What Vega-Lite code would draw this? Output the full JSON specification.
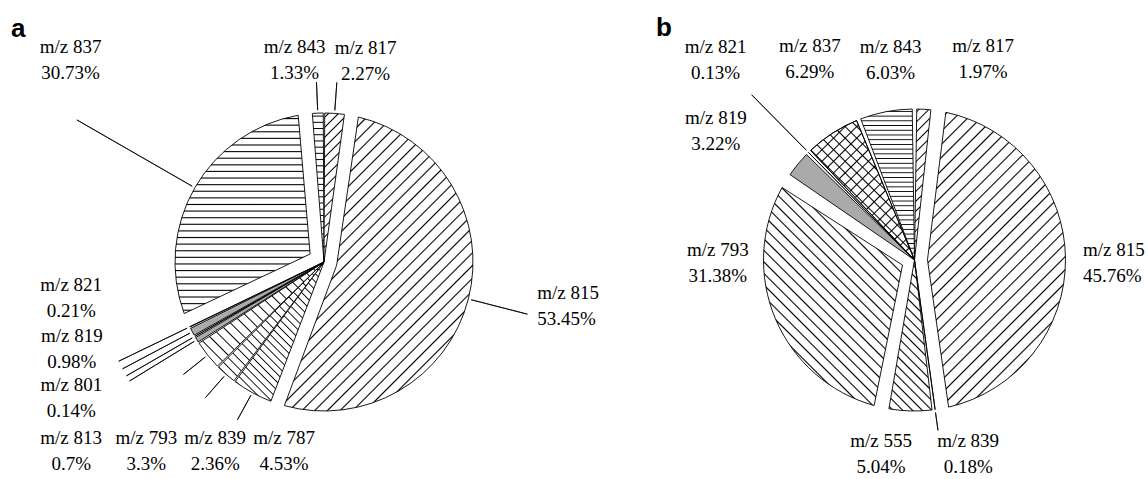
{
"$schema": "https://vega.github.io/schema/vega-lite/v6.json",
"background": "white",
"padding": {"left": 0, "right": 0, "top": 15, "bottom": 0},
"bounds": "flush",
"spacing": 33,
"config": {
  "view": {"stroke": null},
  "text": {"font": "Liberation Serif", "fontSize": 19, "lineHeight": 26, "align": "center", "baseline": "middle", "color": "black"},
  "arc": {"stroke": "black", "strokeWidth": 0.9},
  "title": {"font": "Liberation Sans", "fontSize": 26, "fontWeight": "bold", "color": "black", "anchor": "start", "frame": "group", "baseline": "alphabetic", "offset": -4}
},
"datasets": {
  "a": [
    {"order": 1, "name": "m/z 817", "share": 0.0227},
    {"order": 2, "name": "m/z 815", "share": 0.5345},
    {"order": 3, "name": "m/z 787", "share": 0.0453},
    {"order": 4, "name": "m/z 839", "share": 0.0236},
    {"order": 5, "name": "m/z 793", "share": 0.033},
    {"order": 6, "name": "m/z 813", "share": 0.007},
    {"order": 7, "name": "m/z 801", "share": 0.0014},
    {"order": 8, "name": "m/z 819", "share": 0.0098},
    {"order": 9, "name": "m/z 821", "share": 0.0021},
    {"order": 10, "name": "m/z 837", "share": 0.3073},
    {"order": 11, "name": "m/z 843", "share": 0.0133}
  ],
  "b": [
    {"order": 1, "name": "m/z 817", "share": 0.0197},
    {"order": 2, "name": "m/z 815", "share": 0.4576},
    {"order": 3, "name": "m/z 839", "share": 0.0018},
    {"order": 4, "name": "m/z 555", "share": 0.0504},
    {"order": 5, "name": "m/z 793", "share": 0.3138},
    {"order": 6, "name": "m/z 819", "share": 0.0322},
    {"order": 7, "name": "m/z 821", "share": 0.0013},
    {"order": 8, "name": "m/z 837", "share": 0.0629},
    {"order": 9, "name": "m/z 843", "share": 0.0603}
  ]
},
"hconcat": [
{
  "width": 648, "height": 404,
  "title": {"text": "a", "dx": 11},
  "data": {"name": "a"},
  "transform": [{"stack": "share", "groupby": [], "sort": [{"field": "order", "order": "ascending"}], "as": ["t0", "t1"]}],
  "layer": [
    {"transform": [{"filter": "datum.name === 'm/z 815'"}],
     "mark": {"type": "arc", "outerRadius": 149, "innerRadius": 13, "padAngle": 0.18,
       "fill": {"gradient": "linear", "x1": 0, "y1": 0, "x2": 0.746, "y2": 1.163, "stops": [
{"offset":0.0100,"color":"#fff"},{"offset":0.0132,"color":"#000"},{"offset":0.0164,"color":"#fff"},
{"offset":0.0363,"color":"#fff"},{"offset":0.0395,"color":"#000"},{"offset":0.0427,"color":"#fff"},
{"offset":0.0626,"color":"#fff"},{"offset":0.0658,"color":"#000"},{"offset":0.0690,"color":"#fff"},
{"offset":0.0889,"color":"#fff"},{"offset":0.0921,"color":"#000"},{"offset":0.0953,"color":"#fff"},
{"offset":0.1152,"color":"#fff"},{"offset":0.1184,"color":"#000"},{"offset":0.1216,"color":"#fff"},
{"offset":0.1415,"color":"#fff"},{"offset":0.1447,"color":"#000"},{"offset":0.1479,"color":"#fff"},
{"offset":0.1679,"color":"#fff"},{"offset":0.1711,"color":"#000"},{"offset":0.1743,"color":"#fff"},
{"offset":0.1942,"color":"#fff"},{"offset":0.1974,"color":"#000"},{"offset":0.2006,"color":"#fff"},
{"offset":0.2205,"color":"#fff"},{"offset":0.2237,"color":"#000"},{"offset":0.2269,"color":"#fff"},
{"offset":0.2468,"color":"#fff"},{"offset":0.2500,"color":"#000"},{"offset":0.2532,"color":"#fff"},
{"offset":0.2731,"color":"#fff"},{"offset":0.2763,"color":"#000"},{"offset":0.2795,"color":"#fff"},
{"offset":0.2994,"color":"#fff"},{"offset":0.3026,"color":"#000"},{"offset":0.3058,"color":"#fff"},
{"offset":0.3257,"color":"#fff"},{"offset":0.3289,"color":"#000"},{"offset":0.3321,"color":"#fff"},
{"offset":0.3521,"color":"#fff"},{"offset":0.3553,"color":"#000"},{"offset":0.3585,"color":"#fff"},
{"offset":0.3784,"color":"#fff"},{"offset":0.3816,"color":"#000"},{"offset":0.3848,"color":"#fff"},
{"offset":0.4047,"color":"#fff"},{"offset":0.4079,"color":"#000"},{"offset":0.4111,"color":"#fff"},
{"offset":0.4310,"color":"#fff"},{"offset":0.4342,"color":"#000"},{"offset":0.4374,"color":"#fff"},
{"offset":0.4573,"color":"#fff"},{"offset":0.4605,"color":"#000"},{"offset":0.4637,"color":"#fff"},
{"offset":0.4836,"color":"#fff"},{"offset":0.4868,"color":"#000"},{"offset":0.4900,"color":"#fff"},
{"offset":0.5100,"color":"#fff"},{"offset":0.5132,"color":"#000"},{"offset":0.5164,"color":"#fff"},
{"offset":0.5363,"color":"#fff"},{"offset":0.5395,"color":"#000"},{"offset":0.5427,"color":"#fff"},
{"offset":0.5626,"color":"#fff"},{"offset":0.5658,"color":"#000"},{"offset":0.5690,"color":"#fff"},
{"offset":0.5889,"color":"#fff"},{"offset":0.5921,"color":"#000"},{"offset":0.5953,"color":"#fff"},
{"offset":0.6152,"color":"#fff"},{"offset":0.6184,"color":"#000"},{"offset":0.6216,"color":"#fff"},
{"offset":0.6415,"color":"#fff"},{"offset":0.6447,"color":"#000"},{"offset":0.6479,"color":"#fff"},
{"offset":0.6679,"color":"#fff"},{"offset":0.6711,"color":"#000"},{"offset":0.6743,"color":"#fff"},
{"offset":0.6942,"color":"#fff"},{"offset":0.6974,"color":"#000"},{"offset":0.7006,"color":"#fff"},
{"offset":0.7205,"color":"#fff"},{"offset":0.7237,"color":"#000"},{"offset":0.7269,"color":"#fff"},
{"offset":0.7468,"color":"#fff"},{"offset":0.7500,"color":"#000"},{"offset":0.7532,"color":"#fff"},
{"offset":0.7731,"color":"#fff"},{"offset":0.7763,"color":"#000"},{"offset":0.7795,"color":"#fff"},
{"offset":0.7994,"color":"#fff"},{"offset":0.8026,"color":"#000"},{"offset":0.8058,"color":"#fff"},
{"offset":0.8257,"color":"#fff"},{"offset":0.8289,"color":"#000"},{"offset":0.8321,"color":"#fff"},
{"offset":0.8521,"color":"#fff"},{"offset":0.8553,"color":"#000"},{"offset":0.8585,"color":"#fff"},
{"offset":0.8784,"color":"#fff"},{"offset":0.8816,"color":"#000"},{"offset":0.8848,"color":"#fff"},
{"offset":0.9047,"color":"#fff"},{"offset":0.9079,"color":"#000"},{"offset":0.9111,"color":"#fff"},
{"offset":0.9310,"color":"#fff"},{"offset":0.9342,"color":"#000"},{"offset":0.9374,"color":"#fff"},
{"offset":0.9573,"color":"#fff"},{"offset":0.9605,"color":"#000"},{"offset":0.9637,"color":"#fff"},
{"offset":0.9836,"color":"#fff"},{"offset":0.9868,"color":"#000"},{"offset":0.9900,"color":"#fff"}
       ]}},
     "encoding": {"theta": {"field": "t0", "type": "quantitative", "scale": {"domain": [0, 1]}}, "theta2": {"field": "t1"}}},
    {"transform": [{"filter": "datum.name === 'm/z 837'"}],
     "mark": {"type": "arc", "outerRadius": 149, "innerRadius": 16, "padAngle": 0.18,
       "fill": {"gradient": "linear", "x1": 0, "y1": 0, "x2": 0, "y2": 1, "stops": [
{"offset":0.0112,"color":"#fff"},{"offset":0.0167,"color":"#000"},{"offset":0.0222,"color":"#fff"},
{"offset":0.0445,"color":"#fff"},{"offset":0.0500,"color":"#000"},{"offset":0.0555,"color":"#fff"},
{"offset":0.0778,"color":"#fff"},{"offset":0.0833,"color":"#000"},{"offset":0.0888,"color":"#fff"},
{"offset":0.1112,"color":"#fff"},{"offset":0.1167,"color":"#000"},{"offset":0.1222,"color":"#fff"},
{"offset":0.1445,"color":"#fff"},{"offset":0.1500,"color":"#000"},{"offset":0.1555,"color":"#fff"},
{"offset":0.1778,"color":"#fff"},{"offset":0.1833,"color":"#000"},{"offset":0.1888,"color":"#fff"},
{"offset":0.2112,"color":"#fff"},{"offset":0.2167,"color":"#000"},{"offset":0.2222,"color":"#fff"},
{"offset":0.2445,"color":"#fff"},{"offset":0.2500,"color":"#000"},{"offset":0.2555,"color":"#fff"},
{"offset":0.2778,"color":"#fff"},{"offset":0.2833,"color":"#000"},{"offset":0.2888,"color":"#fff"},
{"offset":0.3112,"color":"#fff"},{"offset":0.3167,"color":"#000"},{"offset":0.3222,"color":"#fff"},
{"offset":0.3445,"color":"#fff"},{"offset":0.3500,"color":"#000"},{"offset":0.3555,"color":"#fff"},
{"offset":0.3778,"color":"#fff"},{"offset":0.3833,"color":"#000"},{"offset":0.3888,"color":"#fff"},
{"offset":0.4112,"color":"#fff"},{"offset":0.4167,"color":"#000"},{"offset":0.4222,"color":"#fff"},
{"offset":0.4445,"color":"#fff"},{"offset":0.4500,"color":"#000"},{"offset":0.4555,"color":"#fff"},
{"offset":0.4778,"color":"#fff"},{"offset":0.4833,"color":"#000"},{"offset":0.4888,"color":"#fff"},
{"offset":0.5112,"color":"#fff"},{"offset":0.5167,"color":"#000"},{"offset":0.5222,"color":"#fff"},
{"offset":0.5445,"color":"#fff"},{"offset":0.5500,"color":"#000"},{"offset":0.5555,"color":"#fff"},
{"offset":0.5778,"color":"#fff"},{"offset":0.5833,"color":"#000"},{"offset":0.5888,"color":"#fff"},
{"offset":0.6112,"color":"#fff"},{"offset":0.6167,"color":"#000"},{"offset":0.6222,"color":"#fff"},
{"offset":0.6445,"color":"#fff"},{"offset":0.6500,"color":"#000"},{"offset":0.6555,"color":"#fff"},
{"offset":0.6778,"color":"#fff"},{"offset":0.6833,"color":"#000"},{"offset":0.6888,"color":"#fff"},
{"offset":0.7112,"color":"#fff"},{"offset":0.7167,"color":"#000"},{"offset":0.7222,"color":"#fff"},
{"offset":0.7445,"color":"#fff"},{"offset":0.7500,"color":"#000"},{"offset":0.7555,"color":"#fff"},
{"offset":0.7778,"color":"#fff"},{"offset":0.7833,"color":"#000"},{"offset":0.7888,"color":"#fff"},
{"offset":0.8112,"color":"#fff"},{"offset":0.8167,"color":"#000"},{"offset":0.8222,"color":"#fff"},
{"offset":0.8445,"color":"#fff"},{"offset":0.8500,"color":"#000"},{"offset":0.8555,"color":"#fff"},
{"offset":0.8778,"color":"#fff"},{"offset":0.8833,"color":"#000"},{"offset":0.8888,"color":"#fff"},
{"offset":0.9112,"color":"#fff"},{"offset":0.9167,"color":"#000"},{"offset":0.9222,"color":"#fff"},
{"offset":0.9445,"color":"#fff"},{"offset":0.9500,"color":"#000"},{"offset":0.9555,"color":"#fff"},
{"offset":0.9778,"color":"#fff"},{"offset":0.9833,"color":"#000"},{"offset":0.9888,"color":"#fff"}
       ]}},
     "encoding": {"theta": {"field": "t0", "type": "quantitative", "scale": {"domain": [0, 1]}}, "theta2": {"field": "t1"}}},
    {"transform": [{"filter": "datum.name === 'm/z 843'"}],
     "mark": {"type": "arc", "outerRadius": 149, "innerRadius": 0, "padAngle": 0.01,
       "fill": {"gradient": "linear", "x1": 0, "y1": 0, "x2": 0, "y2": 1, "stops": [
{"offset":0.0141,"color":"#fff"},{"offset":0.0208,"color":"#000"},{"offset":0.0275,"color":"#fff"},
{"offset":0.0558,"color":"#fff"},{"offset":0.0625,"color":"#000"},{"offset":0.0692,"color":"#fff"},
{"offset":0.0975,"color":"#fff"},{"offset":0.1042,"color":"#000"},{"offset":0.1109,"color":"#fff"},
{"offset":0.1391,"color":"#fff"},{"offset":0.1458,"color":"#000"},{"offset":0.1525,"color":"#fff"},
{"offset":0.1808,"color":"#fff"},{"offset":0.1875,"color":"#000"},{"offset":0.1942,"color":"#fff"},
{"offset":0.2225,"color":"#fff"},{"offset":0.2292,"color":"#000"},{"offset":0.2359,"color":"#fff"},
{"offset":0.2641,"color":"#fff"},{"offset":0.2708,"color":"#000"},{"offset":0.2775,"color":"#fff"},
{"offset":0.3058,"color":"#fff"},{"offset":0.3125,"color":"#000"},{"offset":0.3192,"color":"#fff"},
{"offset":0.3475,"color":"#fff"},{"offset":0.3542,"color":"#000"},{"offset":0.3609,"color":"#fff"},
{"offset":0.3891,"color":"#fff"},{"offset":0.3958,"color":"#000"},{"offset":0.4025,"color":"#fff"},
{"offset":0.4308,"color":"#fff"},{"offset":0.4375,"color":"#000"},{"offset":0.4442,"color":"#fff"},
{"offset":0.4725,"color":"#fff"},{"offset":0.4792,"color":"#000"},{"offset":0.4859,"color":"#fff"},
{"offset":0.5141,"color":"#fff"},{"offset":0.5208,"color":"#000"},{"offset":0.5275,"color":"#fff"},
{"offset":0.5558,"color":"#fff"},{"offset":0.5625,"color":"#000"},{"offset":0.5692,"color":"#fff"},
{"offset":0.5975,"color":"#fff"},{"offset":0.6042,"color":"#000"},{"offset":0.6109,"color":"#fff"},
{"offset":0.6391,"color":"#fff"},{"offset":0.6458,"color":"#000"},{"offset":0.6525,"color":"#fff"},
{"offset":0.6808,"color":"#fff"},{"offset":0.6875,"color":"#000"},{"offset":0.6942,"color":"#fff"},
{"offset":0.7225,"color":"#fff"},{"offset":0.7292,"color":"#000"},{"offset":0.7359,"color":"#fff"},
{"offset":0.7641,"color":"#fff"},{"offset":0.7708,"color":"#000"},{"offset":0.7775,"color":"#fff"},
{"offset":0.8058,"color":"#fff"},{"offset":0.8125,"color":"#000"},{"offset":0.8192,"color":"#fff"},
{"offset":0.8475,"color":"#fff"},{"offset":0.8542,"color":"#000"},{"offset":0.8609,"color":"#fff"},
{"offset":0.8891,"color":"#fff"},{"offset":0.8958,"color":"#000"},{"offset":0.9025,"color":"#fff"},
{"offset":0.9308,"color":"#fff"},{"offset":0.9375,"color":"#000"},{"offset":0.9442,"color":"#fff"},
{"offset":0.9725,"color":"#fff"},{"offset":0.9792,"color":"#000"},{"offset":0.9859,"color":"#fff"}
       ]}},
     "encoding": {"theta": {"field": "t0", "type": "quantitative", "scale": {"domain": [0, 1]}}, "theta2": {"field": "t1"}}},
    {"transform": [{"filter": "datum.name === 'm/z 817'"}],
     "mark": {"type": "arc", "outerRadius": 149, "innerRadius": 0, "padAngle": 0.01,
       "fill": {"gradient": "linear", "x1": 0, "y1": 0, "x2": 0.1528, "y2": 1.116, "stops": [
{"offset":0.0211,"color":"#fff"},{"offset":0.0294,"color":"#000"},{"offset":0.0377,"color":"#fff"},
{"offset":0.0799,"color":"#fff"},{"offset":0.0882,"color":"#000"},{"offset":0.0965,"color":"#fff"},
{"offset":0.1388,"color":"#fff"},{"offset":0.1471,"color":"#000"},{"offset":0.1554,"color":"#fff"},
{"offset":0.1976,"color":"#fff"},{"offset":0.2059,"color":"#000"},{"offset":0.2142,"color":"#fff"},
{"offset":0.2564,"color":"#fff"},{"offset":0.2647,"color":"#000"},{"offset":0.2730,"color":"#fff"},
{"offset":0.3152,"color":"#fff"},{"offset":0.3235,"color":"#000"},{"offset":0.3318,"color":"#fff"},
{"offset":0.3741,"color":"#fff"},{"offset":0.3824,"color":"#000"},{"offset":0.3907,"color":"#fff"},
{"offset":0.4329,"color":"#fff"},{"offset":0.4412,"color":"#000"},{"offset":0.4495,"color":"#fff"},
{"offset":0.4917,"color":"#fff"},{"offset":0.5000,"color":"#000"},{"offset":0.5083,"color":"#fff"},
{"offset":0.5505,"color":"#fff"},{"offset":0.5588,"color":"#000"},{"offset":0.5671,"color":"#fff"},
{"offset":0.6093,"color":"#fff"},{"offset":0.6176,"color":"#000"},{"offset":0.6259,"color":"#fff"},
{"offset":0.6682,"color":"#fff"},{"offset":0.6765,"color":"#000"},{"offset":0.6848,"color":"#fff"},
{"offset":0.7270,"color":"#fff"},{"offset":0.7353,"color":"#000"},{"offset":0.7436,"color":"#fff"},
{"offset":0.7858,"color":"#fff"},{"offset":0.7941,"color":"#000"},{"offset":0.8024,"color":"#fff"},
{"offset":0.8446,"color":"#fff"},{"offset":0.8529,"color":"#000"},{"offset":0.8612,"color":"#fff"},
{"offset":0.9035,"color":"#fff"},{"offset":0.9118,"color":"#000"},{"offset":0.9201,"color":"#fff"},
{"offset":0.9623,"color":"#fff"},{"offset":0.9706,"color":"#000"},{"offset":0.9789,"color":"#fff"}
       ]}},
     "encoding": {"theta": {"field": "t0", "type": "quantitative", "scale": {"domain": [0, 1]}}, "theta2": {"field": "t1"}}},
    {"transform": [{"filter": "datum.name === 'm/z 787'"}],
     "mark": {"type": "arc", "outerRadius": 149, "innerRadius": 0, "padAngle": 0.01,
       "fill": {"gradient": "linear", "x1": 0, "y1": 1, "x2": 0.7433, "y2": -0.164, "stops": [
{"offset":0.0123,"color":"#fff"},{"offset":0.0179,"color":"#000"},{"offset":0.0235,"color":"#fff"},
{"offset":0.0480,"color":"#fff"},{"offset":0.0536,"color":"#000"},{"offset":0.0592,"color":"#fff"},
{"offset":0.0837,"color":"#fff"},{"offset":0.0893,"color":"#000"},{"offset":0.0949,"color":"#fff"},
{"offset":0.1194,"color":"#fff"},{"offset":0.1250,"color":"#000"},{"offset":0.1306,"color":"#fff"},
{"offset":0.1551,"color":"#fff"},{"offset":0.1607,"color":"#000"},{"offset":0.1663,"color":"#fff"},
{"offset":0.1908,"color":"#fff"},{"offset":0.1964,"color":"#000"},{"offset":0.2020,"color":"#fff"},
{"offset":0.2265,"color":"#fff"},{"offset":0.2321,"color":"#000"},{"offset":0.2377,"color":"#fff"},
{"offset":0.2623,"color":"#fff"},{"offset":0.2679,"color":"#000"},{"offset":0.2735,"color":"#fff"},
{"offset":0.2980,"color":"#fff"},{"offset":0.3036,"color":"#000"},{"offset":0.3092,"color":"#fff"},
{"offset":0.3337,"color":"#fff"},{"offset":0.3393,"color":"#000"},{"offset":0.3449,"color":"#fff"},
{"offset":0.3694,"color":"#fff"},{"offset":0.3750,"color":"#000"},{"offset":0.3806,"color":"#fff"},
{"offset":0.4051,"color":"#fff"},{"offset":0.4107,"color":"#000"},{"offset":0.4163,"color":"#fff"},
{"offset":0.4408,"color":"#fff"},{"offset":0.4464,"color":"#000"},{"offset":0.4520,"color":"#fff"},
{"offset":0.4765,"color":"#fff"},{"offset":0.4821,"color":"#000"},{"offset":0.4877,"color":"#fff"},
{"offset":0.5123,"color":"#fff"},{"offset":0.5179,"color":"#000"},{"offset":0.5235,"color":"#fff"},
{"offset":0.5480,"color":"#fff"},{"offset":0.5536,"color":"#000"},{"offset":0.5592,"color":"#fff"},
{"offset":0.5837,"color":"#fff"},{"offset":0.5893,"color":"#000"},{"offset":0.5949,"color":"#fff"},
{"offset":0.6194,"color":"#fff"},{"offset":0.6250,"color":"#000"},{"offset":0.6306,"color":"#fff"},
{"offset":0.6551,"color":"#fff"},{"offset":0.6607,"color":"#000"},{"offset":0.6663,"color":"#fff"},
{"offset":0.6908,"color":"#fff"},{"offset":0.6964,"color":"#000"},{"offset":0.7020,"color":"#fff"},
{"offset":0.7265,"color":"#fff"},{"offset":0.7321,"color":"#000"},{"offset":0.7377,"color":"#fff"},
{"offset":0.7623,"color":"#fff"},{"offset":0.7679,"color":"#000"},{"offset":0.7735,"color":"#fff"},
{"offset":0.7980,"color":"#fff"},{"offset":0.8036,"color":"#000"},{"offset":0.8092,"color":"#fff"},
{"offset":0.8337,"color":"#fff"},{"offset":0.8393,"color":"#000"},{"offset":0.8449,"color":"#fff"},
{"offset":0.8694,"color":"#fff"},{"offset":0.8750,"color":"#000"},{"offset":0.8806,"color":"#fff"},
{"offset":0.9051,"color":"#fff"},{"offset":0.9107,"color":"#000"},{"offset":0.9163,"color":"#fff"},
{"offset":0.9408,"color":"#fff"},{"offset":0.9464,"color":"#000"},{"offset":0.9520,"color":"#fff"},
{"offset":0.9765,"color":"#fff"},{"offset":0.9821,"color":"#000"},{"offset":0.9877,"color":"#fff"}
       ]}},
     "encoding": {"theta": {"field": "t0", "type": "quantitative", "scale": {"domain": [0, 1]}}, "theta2": {"field": "t1"}}},
    {"transform": [{"filter": "datum.name === 'm/z 839'"}],
     "mark": {"type": "arc", "outerRadius": 149, "innerRadius": 0, "padAngle": 0.01,
       "fill": {"gradient": "linear", "x1": 0, "y1": 1, "x2": 0.9384, "y2": -0.0548, "stops": [
{"offset":0.0151,"color":"#fff"},{"offset":0.0208,"color":"#000"},{"offset":0.0265,"color":"#fff"},
{"offset":0.0568,"color":"#fff"},{"offset":0.0625,"color":"#000"},{"offset":0.0682,"color":"#fff"},
{"offset":0.0985,"color":"#fff"},{"offset":0.1042,"color":"#000"},{"offset":0.1099,"color":"#fff"},
{"offset":0.1401,"color":"#fff"},{"offset":0.1458,"color":"#000"},{"offset":0.1515,"color":"#fff"},
{"offset":0.1818,"color":"#fff"},{"offset":0.1875,"color":"#000"},{"offset":0.1932,"color":"#fff"},
{"offset":0.2235,"color":"#fff"},{"offset":0.2292,"color":"#000"},{"offset":0.2349,"color":"#fff"},
{"offset":0.2651,"color":"#fff"},{"offset":0.2708,"color":"#000"},{"offset":0.2765,"color":"#fff"},
{"offset":0.3068,"color":"#fff"},{"offset":0.3125,"color":"#000"},{"offset":0.3182,"color":"#fff"},
{"offset":0.3485,"color":"#fff"},{"offset":0.3542,"color":"#000"},{"offset":0.3599,"color":"#fff"},
{"offset":0.3901,"color":"#fff"},{"offset":0.3958,"color":"#000"},{"offset":0.4015,"color":"#fff"},
{"offset":0.4318,"color":"#fff"},{"offset":0.4375,"color":"#000"},{"offset":0.4432,"color":"#fff"},
{"offset":0.4735,"color":"#fff"},{"offset":0.4792,"color":"#000"},{"offset":0.4849,"color":"#fff"},
{"offset":0.5151,"color":"#fff"},{"offset":0.5208,"color":"#000"},{"offset":0.5265,"color":"#fff"},
{"offset":0.5568,"color":"#fff"},{"offset":0.5625,"color":"#000"},{"offset":0.5682,"color":"#fff"},
{"offset":0.5985,"color":"#fff"},{"offset":0.6042,"color":"#000"},{"offset":0.6099,"color":"#fff"},
{"offset":0.6401,"color":"#fff"},{"offset":0.6458,"color":"#000"},{"offset":0.6515,"color":"#fff"},
{"offset":0.6818,"color":"#fff"},{"offset":0.6875,"color":"#000"},{"offset":0.6932,"color":"#fff"},
{"offset":0.7235,"color":"#fff"},{"offset":0.7292,"color":"#000"},{"offset":0.7349,"color":"#fff"},
{"offset":0.7651,"color":"#fff"},{"offset":0.7708,"color":"#000"},{"offset":0.7765,"color":"#fff"},
{"offset":0.8068,"color":"#fff"},{"offset":0.8125,"color":"#000"},{"offset":0.8182,"color":"#fff"},
{"offset":0.8485,"color":"#fff"},{"offset":0.8542,"color":"#000"},{"offset":0.8599,"color":"#fff"},
{"offset":0.8901,"color":"#fff"},{"offset":0.8958,"color":"#000"},{"offset":0.9015,"color":"#fff"},
{"offset":0.9318,"color":"#fff"},{"offset":0.9375,"color":"#000"},{"offset":0.9432,"color":"#fff"},
{"offset":0.9735,"color":"#fff"},{"offset":0.9792,"color":"#000"},{"offset":0.9849,"color":"#fff"}
       ]}},
     "encoding": {"theta": {"field": "t0", "type": "quantitative", "scale": {"domain": [0, 1]}}, "theta2": {"field": "t1"}}},
    {"transform": [{"filter": "datum.name === 'm/z 793'"}],
     "mark": {"type": "arc", "outerRadius": 149, "innerRadius": 0, "padAngle": 0.01,
       "fill": {"gradient": "linear", "x1": 0, "y1": 1, "x2": 1.0822, "y2": 0.0987, "stops": [
{"offset":0.019,"color":"#fff"},{"offset":0.025,"color":"#000"},{"offset":0.031,"color":"#fff"},
{"offset":0.069,"color":"#fff"},{"offset":0.075,"color":"#000"},{"offset":0.081,"color":"#fff"},
{"offset":0.119,"color":"#fff"},{"offset":0.125,"color":"#000"},{"offset":0.131,"color":"#fff"},
{"offset":0.169,"color":"#fff"},{"offset":0.175,"color":"#000"},{"offset":0.181,"color":"#fff"},
{"offset":0.219,"color":"#fff"},{"offset":0.225,"color":"#000"},{"offset":0.231,"color":"#fff"},
{"offset":0.269,"color":"#fff"},{"offset":0.275,"color":"#000"},{"offset":0.281,"color":"#fff"},
{"offset":0.319,"color":"#fff"},{"offset":0.325,"color":"#000"},{"offset":0.331,"color":"#fff"},
{"offset":0.369,"color":"#fff"},{"offset":0.375,"color":"#000"},{"offset":0.381,"color":"#fff"},
{"offset":0.419,"color":"#fff"},{"offset":0.425,"color":"#000"},{"offset":0.431,"color":"#fff"},
{"offset":0.469,"color":"#fff"},{"offset":0.475,"color":"#000"},{"offset":0.481,"color":"#fff"},
{"offset":0.519,"color":"#fff"},{"offset":0.525,"color":"#000"},{"offset":0.531,"color":"#fff"},
{"offset":0.569,"color":"#fff"},{"offset":0.575,"color":"#000"},{"offset":0.581,"color":"#fff"},
{"offset":0.619,"color":"#fff"},{"offset":0.625,"color":"#000"},{"offset":0.631,"color":"#fff"},
{"offset":0.669,"color":"#fff"},{"offset":0.675,"color":"#000"},{"offset":0.681,"color":"#fff"},
{"offset":0.719,"color":"#fff"},{"offset":0.725,"color":"#000"},{"offset":0.731,"color":"#fff"},
{"offset":0.769,"color":"#fff"},{"offset":0.775,"color":"#000"},{"offset":0.781,"color":"#fff"},
{"offset":0.819,"color":"#fff"},{"offset":0.825,"color":"#000"},{"offset":0.831,"color":"#fff"},
{"offset":0.869,"color":"#fff"},{"offset":0.875,"color":"#000"},{"offset":0.881,"color":"#fff"},
{"offset":0.919,"color":"#fff"},{"offset":0.925,"color":"#000"},{"offset":0.931,"color":"#fff"},
{"offset":0.969,"color":"#fff"},{"offset":0.975,"color":"#000"},{"offset":0.981,"color":"#fff"}
       ]}},
     "encoding": {"theta": {"field": "t0", "type": "quantitative", "scale": {"domain": [0, 1]}}, "theta2": {"field": "t1"}}},
    {"transform": [{"filter": {"field": "name", "oneOf": ["m/z 813", "m/z 801", "m/z 819", "m/z 821"]}}],
     "mark": {"type": "arc", "outerRadius": 149, "innerRadius": 0, "padAngle": 0.01},
     "encoding": {"theta": {"field": "t0", "type": "quantitative", "scale": {"domain": [0, 1]}}, "theta2": {"field": "t1"},
       "fill": {"field": "name", "type": "nominal", "legend": null, "scale": {
         "domain": ["m/z 813", "m/z 801", "m/z 819", "m/z 821"],
         "range": ["#aaaaaa", "#aaaaaa", "#aaaaaa", "#aaaaaa"]}}}},
    {"transform": [{"filter": {"field": "name", "oneOf": ["m/z 843", "m/z 817", "m/z 787", "m/z 839", "m/z 793"]}}],
     "mark": {"type": "arc", "filled": false, "stroke": "black", "strokeWidth": 0.8, "outerRadius": 180, "innerRadius": 152, "padAngle": 3.14},
     "encoding": {"theta": {"field": "t0", "type": "quantitative", "scale": {"domain": [0, 1]}}, "theta2": {"field": "t1"}}},
    {"transform": [{"filter": {"field": "name", "oneOf": ["m/z 813", "m/z 801", "m/z 819", "m/z 821"]}}],
     "mark": {"type": "arc", "filled": false, "stroke": "black", "strokeWidth": 0.8, "outerRadius": 228, "innerRadius": 152, "padAngle": 3.14},
     "encoding": {"theta": {"field": "t0", "type": "quantitative", "scale": {"domain": [0, 1]}}, "theta2": {"field": "t1"}}},
    {"transform": [{"filter": "datum.name === 'm/z 815'"}],
     "mark": {"type": "arc", "filled": false, "stroke": "black", "strokeWidth": 0.8, "outerRadius": 210, "innerRadius": 152, "padAngle": 3.14, "thetaOffset": 0.2, "theta2Offset": -0.2},
     "encoding": {"theta": {"field": "t0", "type": "quantitative", "scale": {"domain": [0, 1]}}, "theta2": {"field": "t1"}}},
    {"transform": [{"filter": "datum.name === 'm/z 837'"}],
     "mark": {"type": "arc", "filled": false, "stroke": "black", "strokeWidth": 0.8, "outerRadius": 285, "innerRadius": 152, "padAngle": 3.14},
     "encoding": {"theta": {"field": "t0", "type": "quantitative", "scale": {"domain": [0, 1]}}, "theta2": {"field": "t1"}}},
    {"mark": {"type": "text", "radius": {"expr": "datum.name === 'm/z 837' ? 320 : 0"}, "dx": 24, "dy": -55},
     "encoding": {"theta": {"field": "share", "type": "quantitative", "stack": true, "scale": {"domain": [0, 1]}}, "order": {"field": "order", "type": "quantitative"},
       "text": {"condition": {"test": "datum.name === 'm/z 837'", "value": {"expr": "[datum.name, format(datum.share, '.2~%')]"}}, "value": ""}}},
    {"mark": {"type": "text", "radius": {"expr": "datum.name === 'm/z 843' ? 203 : 0"}, "dx": -21, "dy": -12},
     "encoding": {"theta": {"field": "share", "type": "quantitative", "stack": true, "scale": {"domain": [0, 1]}}, "order": {"field": "order", "type": "quantitative"},
       "text": {"condition": {"test": "datum.name === 'm/z 843'", "value": {"expr": "[datum.name, format(datum.share, '.2~%')]"}}, "value": ""}}},
    {"mark": {"type": "text", "radius": {"expr": "datum.name === 'm/z 817' ? 204 : 0"}, "dx": 27, "dy": -11},
     "encoding": {"theta": {"field": "share", "type": "quantitative", "stack": true, "scale": {"domain": [0, 1]}}, "order": {"field": "order", "type": "quantitative"},
       "text": {"condition": {"test": "datum.name === 'm/z 817'", "value": {"expr": "[datum.name, format(datum.share, '.2~%')]"}}, "value": ""}}},
    {"mark": {"type": "text", "radius": {"expr": "datum.name === 'm/z 815' ? 217 : 0"}, "dx": 3, "dy": -23, "align": "left"},
     "encoding": {"theta": {"field": "share", "type": "quantitative", "stack": true, "scale": {"domain": [0, 1]}}, "order": {"field": "order", "type": "quantitative"},
       "text": {"condition": {"test": "datum.name === 'm/z 815'", "value": {"expr": "[datum.name, format(datum.share, '.2~%')]"}}, "value": ""}}},
    {"mark": {"type": "text", "radius": {"expr": "datum.name === 'm/z 787' ? 185 : 0"}, "dx": 49, "dy": 14},
     "encoding": {"theta": {"field": "share", "type": "quantitative", "stack": true, "scale": {"domain": [0, 1]}}, "order": {"field": "order", "type": "quantitative"},
       "text": {"condition": {"test": "datum.name === 'm/z 787'", "value": {"expr": "[datum.name, format(datum.share, '.2~%')]"}}, "value": ""}}},
    {"mark": {"type": "text", "radius": {"expr": "datum.name === 'm/z 839' ? 214 : 0"}, "dx": 32, "dy": 15},
     "encoding": {"theta": {"field": "share", "type": "quantitative", "stack": true, "scale": {"domain": [0, 1]}}, "order": {"field": "order", "type": "quantitative"},
       "text": {"condition": {"test": "datum.name === 'm/z 839'", "value": {"expr": "[datum.name, format(datum.share, '.2~%')]"}}, "value": ""}}},
    {"mark": {"type": "text", "radius": {"expr": "datum.name === 'm/z 793' ? 257 : 0"}, "dx": 23, "dy": 15},
     "encoding": {"theta": {"field": "share", "type": "quantitative", "stack": true, "scale": {"domain": [0, 1]}}, "order": {"field": "order", "type": "quantitative"},
       "text": {"condition": {"test": "datum.name === 'm/z 793'", "value": {"expr": "[datum.name, format(datum.share, '.2~%')]"}}, "value": ""}}},
    {"mark": {"type": "text", "radius": {"expr": "datum.name === 'm/z 813' ? 314 : 0"}, "dx": 15, "dy": 12},
     "encoding": {"theta": {"field": "share", "type": "quantitative", "stack": true, "scale": {"domain": [0, 1]}}, "order": {"field": "order", "type": "quantitative"},
       "text": {"condition": {"test": "datum.name === 'm/z 813'", "value": {"expr": "[datum.name, format(datum.share, '.2~%')]"}}, "value": ""}}},
    {"mark": {"type": "text", "radius": {"expr": "datum.name === 'm/z 801' ? 287 : 0"}, "dx": -4, "dy": -20},
     "encoding": {"theta": {"field": "share", "type": "quantitative", "stack": true, "scale": {"domain": [0, 1]}}, "order": {"field": "order", "type": "quantitative"},
       "text": {"condition": {"test": "datum.name === 'm/z 801'", "value": {"expr": "[datum.name, format(datum.share, '.2~%')]"}}, "value": ""}}},
    {"mark": {"type": "text", "radius": {"expr": "datum.name === 'm/z 819' ? 264 : 0"}, "dx": -19, "dy": -50},
     "encoding": {"theta": {"field": "share", "type": "quantitative", "stack": true, "scale": {"domain": [0, 1]}}, "order": {"field": "order", "type": "quantitative"},
       "text": {"condition": {"test": "datum.name === 'm/z 819'", "value": {"expr": "[datum.name, format(datum.share, '.2~%')]"}}, "value": ""}}},
    {"mark": {"type": "text", "radius": {"expr": "datum.name === 'm/z 821' ? 243 : 0"}, "dx": -34, "dy": -83},
     "encoding": {"theta": {"field": "share", "type": "quantitative", "stack": true, "scale": {"domain": [0, 1]}}, "order": {"field": "order", "type": "quantitative"},
       "text": {"condition": {"test": "datum.name === 'm/z 821'", "value": {"expr": "[datum.name, format(datum.share, '.2~%')]"}}, "value": ""}}}
  ]
},
{
  "width": 467, "height": 400,
  "title": {"text": "b", "dx": -25},
  "data": {"name": "b"},
  "transform": [{"stack": "share", "groupby": [], "sort": [{"field": "order", "order": "ascending"}], "as": ["t0", "t1"]}],
  "layer": [
    {"transform": [{"filter": "datum.name === 'm/z 815'"}],
     "mark": {"type": "arc", "outerRadius": 151, "innerRadius": 13, "padAngle": 0.17,
       "fill": {"gradient": "linear", "x1": 0, "y1": 0, "x2": 0.5637, "y2": 1.2043, "stops": [
{"offset":0.0116,"color":"#fff"},{"offset":0.0152,"color":"#000"},{"offset":0.0188,"color":"#fff"},
{"offset":0.0419,"color":"#fff"},{"offset":0.0455,"color":"#000"},{"offset":0.0491,"color":"#fff"},
{"offset":0.0722,"color":"#fff"},{"offset":0.0758,"color":"#000"},{"offset":0.0794,"color":"#fff"},
{"offset":0.1025,"color":"#fff"},{"offset":0.1061,"color":"#000"},{"offset":0.1097,"color":"#fff"},
{"offset":0.1328,"color":"#fff"},{"offset":0.1364,"color":"#000"},{"offset":0.1400,"color":"#fff"},
{"offset":0.1631,"color":"#fff"},{"offset":0.1667,"color":"#000"},{"offset":0.1703,"color":"#fff"},
{"offset":0.1934,"color":"#fff"},{"offset":0.1970,"color":"#000"},{"offset":0.2006,"color":"#fff"},
{"offset":0.2237,"color":"#fff"},{"offset":0.2273,"color":"#000"},{"offset":0.2309,"color":"#fff"},
{"offset":0.2540,"color":"#fff"},{"offset":0.2576,"color":"#000"},{"offset":0.2612,"color":"#fff"},
{"offset":0.2843,"color":"#fff"},{"offset":0.2879,"color":"#000"},{"offset":0.2915,"color":"#fff"},
{"offset":0.3146,"color":"#fff"},{"offset":0.3182,"color":"#000"},{"offset":0.3218,"color":"#fff"},
{"offset":0.3449,"color":"#fff"},{"offset":0.3485,"color":"#000"},{"offset":0.3521,"color":"#fff"},
{"offset":0.3752,"color":"#fff"},{"offset":0.3788,"color":"#000"},{"offset":0.3824,"color":"#fff"},
{"offset":0.4055,"color":"#fff"},{"offset":0.4091,"color":"#000"},{"offset":0.4127,"color":"#fff"},
{"offset":0.4358,"color":"#fff"},{"offset":0.4394,"color":"#000"},{"offset":0.4430,"color":"#fff"},
{"offset":0.4661,"color":"#fff"},{"offset":0.4697,"color":"#000"},{"offset":0.4733,"color":"#fff"},
{"offset":0.4964,"color":"#fff"},{"offset":0.5000,"color":"#000"},{"offset":0.5036,"color":"#fff"},
{"offset":0.5267,"color":"#fff"},{"offset":0.5303,"color":"#000"},{"offset":0.5339,"color":"#fff"},
{"offset":0.5570,"color":"#fff"},{"offset":0.5606,"color":"#000"},{"offset":0.5642,"color":"#fff"},
{"offset":0.5873,"color":"#fff"},{"offset":0.5909,"color":"#000"},{"offset":0.5945,"color":"#fff"},
{"offset":0.6176,"color":"#fff"},{"offset":0.6212,"color":"#000"},{"offset":0.6248,"color":"#fff"},
{"offset":0.6479,"color":"#fff"},{"offset":0.6515,"color":"#000"},{"offset":0.6551,"color":"#fff"},
{"offset":0.6782,"color":"#fff"},{"offset":0.6818,"color":"#000"},{"offset":0.6854,"color":"#fff"},
{"offset":0.7085,"color":"#fff"},{"offset":0.7121,"color":"#000"},{"offset":0.7157,"color":"#fff"},
{"offset":0.7388,"color":"#fff"},{"offset":0.7424,"color":"#000"},{"offset":0.7460,"color":"#fff"},
{"offset":0.7691,"color":"#fff"},{"offset":0.7727,"color":"#000"},{"offset":0.7763,"color":"#fff"},
{"offset":0.7994,"color":"#fff"},{"offset":0.8030,"color":"#000"},{"offset":0.8066,"color":"#fff"},
{"offset":0.8297,"color":"#fff"},{"offset":0.8333,"color":"#000"},{"offset":0.8369,"color":"#fff"},
{"offset":0.8600,"color":"#fff"},{"offset":0.8636,"color":"#000"},{"offset":0.8672,"color":"#fff"},
{"offset":0.8903,"color":"#fff"},{"offset":0.8939,"color":"#000"},{"offset":0.8975,"color":"#fff"},
{"offset":0.9206,"color":"#fff"},{"offset":0.9242,"color":"#000"},{"offset":0.9278,"color":"#fff"},
{"offset":0.9509,"color":"#fff"},{"offset":0.9545,"color":"#000"},{"offset":0.9581,"color":"#fff"},
{"offset":0.9812,"color":"#fff"},{"offset":0.9848,"color":"#000"},{"offset":0.9884,"color":"#fff"}
       ]}},
     "encoding": {"theta": {"field": "t0", "type": "quantitative", "scale": {"domain": [0, 1]}}, "theta2": {"field": "t1"}}},
    {"transform": [{"filter": "datum.name === 'm/z 793'"}],
     "mark": {"type": "arc", "outerRadius": 151, "innerRadius": 13, "padAngle": 0.17,
       "fill": {"gradient": "linear", "x1": 0, "y1": 1, "x2": 0.7424, "y2": -0.1643, "stops": [
{"offset":0.0117,"color":"#fff"},{"offset":0.0161,"color":"#000"},{"offset":0.0205,"color":"#fff"},
{"offset":0.0440,"color":"#fff"},{"offset":0.0484,"color":"#000"},{"offset":0.0528,"color":"#fff"},
{"offset":0.0762,"color":"#fff"},{"offset":0.0806,"color":"#000"},{"offset":0.0850,"color":"#fff"},
{"offset":0.1085,"color":"#fff"},{"offset":0.1129,"color":"#000"},{"offset":0.1173,"color":"#fff"},
{"offset":0.1408,"color":"#fff"},{"offset":0.1452,"color":"#000"},{"offset":0.1496,"color":"#fff"},
{"offset":0.1730,"color":"#fff"},{"offset":0.1774,"color":"#000"},{"offset":0.1818,"color":"#fff"},
{"offset":0.2053,"color":"#fff"},{"offset":0.2097,"color":"#000"},{"offset":0.2141,"color":"#fff"},
{"offset":0.2375,"color":"#fff"},{"offset":0.2419,"color":"#000"},{"offset":0.2463,"color":"#fff"},
{"offset":0.2698,"color":"#fff"},{"offset":0.2742,"color":"#000"},{"offset":0.2786,"color":"#fff"},
{"offset":0.3021,"color":"#fff"},{"offset":0.3065,"color":"#000"},{"offset":0.3109,"color":"#fff"},
{"offset":0.3343,"color":"#fff"},{"offset":0.3387,"color":"#000"},{"offset":0.3431,"color":"#fff"},
{"offset":0.3666,"color":"#fff"},{"offset":0.3710,"color":"#000"},{"offset":0.3754,"color":"#fff"},
{"offset":0.3988,"color":"#fff"},{"offset":0.4032,"color":"#000"},{"offset":0.4076,"color":"#fff"},
{"offset":0.4311,"color":"#fff"},{"offset":0.4355,"color":"#000"},{"offset":0.4399,"color":"#fff"},
{"offset":0.4633,"color":"#fff"},{"offset":0.4677,"color":"#000"},{"offset":0.4721,"color":"#fff"},
{"offset":0.4956,"color":"#fff"},{"offset":0.5000,"color":"#000"},{"offset":0.5044,"color":"#fff"},
{"offset":0.5279,"color":"#fff"},{"offset":0.5323,"color":"#000"},{"offset":0.5367,"color":"#fff"},
{"offset":0.5601,"color":"#fff"},{"offset":0.5645,"color":"#000"},{"offset":0.5689,"color":"#fff"},
{"offset":0.5924,"color":"#fff"},{"offset":0.5968,"color":"#000"},{"offset":0.6012,"color":"#fff"},
{"offset":0.6246,"color":"#fff"},{"offset":0.6290,"color":"#000"},{"offset":0.6334,"color":"#fff"},
{"offset":0.6569,"color":"#fff"},{"offset":0.6613,"color":"#000"},{"offset":0.6657,"color":"#fff"},
{"offset":0.6891,"color":"#fff"},{"offset":0.6935,"color":"#000"},{"offset":0.6979,"color":"#fff"},
{"offset":0.7214,"color":"#fff"},{"offset":0.7258,"color":"#000"},{"offset":0.7302,"color":"#fff"},
{"offset":0.7537,"color":"#fff"},{"offset":0.7581,"color":"#000"},{"offset":0.7625,"color":"#fff"},
{"offset":0.7859,"color":"#fff"},{"offset":0.7903,"color":"#000"},{"offset":0.7947,"color":"#fff"},
{"offset":0.8182,"color":"#fff"},{"offset":0.8226,"color":"#000"},{"offset":0.8270,"color":"#fff"},
{"offset":0.8504,"color":"#fff"},{"offset":0.8548,"color":"#000"},{"offset":0.8592,"color":"#fff"},
{"offset":0.8827,"color":"#fff"},{"offset":0.8871,"color":"#000"},{"offset":0.8915,"color":"#fff"},
{"offset":0.9150,"color":"#fff"},{"offset":0.9194,"color":"#000"},{"offset":0.9238,"color":"#fff"},
{"offset":0.9472,"color":"#fff"},{"offset":0.9516,"color":"#000"},{"offset":0.9560,"color":"#fff"},
{"offset":0.9795,"color":"#fff"},{"offset":0.9839,"color":"#000"},{"offset":0.9883,"color":"#fff"}
       ]}},
     "encoding": {"theta": {"field": "t0", "type": "quantitative", "scale": {"domain": [0, 1]}}, "theta2": {"field": "t1"}}},
    {"transform": [{"filter": "datum.name === 'm/z 555'"}],
     "mark": {"type": "arc", "outerRadius": 151, "innerRadius": 0, "padAngle": 0.03,
       "fill": {"gradient": "linear", "x1": 0, "y1": 1, "x2": 0.3392, "y2": -0.1885, "stops": [
{"offset":0.017,"color":"#fff"},{"offset":0.025,"color":"#000"},{"offset":0.033,"color":"#fff"},
{"offset":0.067,"color":"#fff"},{"offset":0.075,"color":"#000"},{"offset":0.083,"color":"#fff"},
{"offset":0.117,"color":"#fff"},{"offset":0.125,"color":"#000"},{"offset":0.133,"color":"#fff"},
{"offset":0.167,"color":"#fff"},{"offset":0.175,"color":"#000"},{"offset":0.183,"color":"#fff"},
{"offset":0.217,"color":"#fff"},{"offset":0.225,"color":"#000"},{"offset":0.233,"color":"#fff"},
{"offset":0.267,"color":"#fff"},{"offset":0.275,"color":"#000"},{"offset":0.283,"color":"#fff"},
{"offset":0.317,"color":"#fff"},{"offset":0.325,"color":"#000"},{"offset":0.333,"color":"#fff"},
{"offset":0.367,"color":"#fff"},{"offset":0.375,"color":"#000"},{"offset":0.383,"color":"#fff"},
{"offset":0.417,"color":"#fff"},{"offset":0.425,"color":"#000"},{"offset":0.433,"color":"#fff"},
{"offset":0.467,"color":"#fff"},{"offset":0.475,"color":"#000"},{"offset":0.483,"color":"#fff"},
{"offset":0.517,"color":"#fff"},{"offset":0.525,"color":"#000"},{"offset":0.533,"color":"#fff"},
{"offset":0.567,"color":"#fff"},{"offset":0.575,"color":"#000"},{"offset":0.583,"color":"#fff"},
{"offset":0.617,"color":"#fff"},{"offset":0.625,"color":"#000"},{"offset":0.633,"color":"#fff"},
{"offset":0.667,"color":"#fff"},{"offset":0.675,"color":"#000"},{"offset":0.683,"color":"#fff"},
{"offset":0.717,"color":"#fff"},{"offset":0.725,"color":"#000"},{"offset":0.733,"color":"#fff"},
{"offset":0.767,"color":"#fff"},{"offset":0.775,"color":"#000"},{"offset":0.783,"color":"#fff"},
{"offset":0.817,"color":"#fff"},{"offset":0.825,"color":"#000"},{"offset":0.833,"color":"#fff"},
{"offset":0.867,"color":"#fff"},{"offset":0.875,"color":"#000"},{"offset":0.883,"color":"#fff"},
{"offset":0.917,"color":"#fff"},{"offset":0.925,"color":"#000"},{"offset":0.933,"color":"#fff"},
{"offset":0.967,"color":"#fff"},{"offset":0.975,"color":"#000"},{"offset":0.983,"color":"#fff"}
       ]}},
     "encoding": {"theta": {"field": "t0", "type": "quantitative", "scale": {"domain": [0, 1]}}, "theta2": {"field": "t1"}}},
    {"transform": [{"filter": "datum.name === 'm/z 843'"}],
     "mark": {"type": "arc", "outerRadius": 151, "innerRadius": 0, "padAngle": 0.03,
       "fill": {"gradient": "linear", "x1": 0, "y1": 0, "x2": 0, "y2": 1, "stops": [
{"offset":0.0096,"color":"#fff"},{"offset":0.0156,"color":"#000"},{"offset":0.0216,"color":"#fff"},
{"offset":0.0409,"color":"#fff"},{"offset":0.0469,"color":"#000"},{"offset":0.0529,"color":"#fff"},
{"offset":0.0721,"color":"#fff"},{"offset":0.0781,"color":"#000"},{"offset":0.0841,"color":"#fff"},
{"offset":0.1034,"color":"#fff"},{"offset":0.1094,"color":"#000"},{"offset":0.1154,"color":"#fff"},
{"offset":0.1346,"color":"#fff"},{"offset":0.1406,"color":"#000"},{"offset":0.1466,"color":"#fff"},
{"offset":0.1659,"color":"#fff"},{"offset":0.1719,"color":"#000"},{"offset":0.1779,"color":"#fff"},
{"offset":0.1971,"color":"#fff"},{"offset":0.2031,"color":"#000"},{"offset":0.2091,"color":"#fff"},
{"offset":0.2284,"color":"#fff"},{"offset":0.2344,"color":"#000"},{"offset":0.2404,"color":"#fff"},
{"offset":0.2596,"color":"#fff"},{"offset":0.2656,"color":"#000"},{"offset":0.2716,"color":"#fff"},
{"offset":0.2909,"color":"#fff"},{"offset":0.2969,"color":"#000"},{"offset":0.3029,"color":"#fff"},
{"offset":0.3221,"color":"#fff"},{"offset":0.3281,"color":"#000"},{"offset":0.3341,"color":"#fff"},
{"offset":0.3534,"color":"#fff"},{"offset":0.3594,"color":"#000"},{"offset":0.3654,"color":"#fff"},
{"offset":0.3846,"color":"#fff"},{"offset":0.3906,"color":"#000"},{"offset":0.3966,"color":"#fff"},
{"offset":0.4159,"color":"#fff"},{"offset":0.4219,"color":"#000"},{"offset":0.4279,"color":"#fff"},
{"offset":0.4471,"color":"#fff"},{"offset":0.4531,"color":"#000"},{"offset":0.4591,"color":"#fff"},
{"offset":0.4784,"color":"#fff"},{"offset":0.4844,"color":"#000"},{"offset":0.4904,"color":"#fff"},
{"offset":0.5096,"color":"#fff"},{"offset":0.5156,"color":"#000"},{"offset":0.5216,"color":"#fff"},
{"offset":0.5409,"color":"#fff"},{"offset":0.5469,"color":"#000"},{"offset":0.5529,"color":"#fff"},
{"offset":0.5721,"color":"#fff"},{"offset":0.5781,"color":"#000"},{"offset":0.5841,"color":"#fff"},
{"offset":0.6034,"color":"#fff"},{"offset":0.6094,"color":"#000"},{"offset":0.6154,"color":"#fff"},
{"offset":0.6346,"color":"#fff"},{"offset":0.6406,"color":"#000"},{"offset":0.6466,"color":"#fff"},
{"offset":0.6659,"color":"#fff"},{"offset":0.6719,"color":"#000"},{"offset":0.6779,"color":"#fff"},
{"offset":0.6971,"color":"#fff"},{"offset":0.7031,"color":"#000"},{"offset":0.7091,"color":"#fff"},
{"offset":0.7284,"color":"#fff"},{"offset":0.7344,"color":"#000"},{"offset":0.7404,"color":"#fff"},
{"offset":0.7596,"color":"#fff"},{"offset":0.7656,"color":"#000"},{"offset":0.7716,"color":"#fff"},
{"offset":0.7909,"color":"#fff"},{"offset":0.7969,"color":"#000"},{"offset":0.8029,"color":"#fff"},
{"offset":0.8221,"color":"#fff"},{"offset":0.8281,"color":"#000"},{"offset":0.8341,"color":"#fff"},
{"offset":0.8534,"color":"#fff"},{"offset":0.8594,"color":"#000"},{"offset":0.8654,"color":"#fff"},
{"offset":0.8846,"color":"#fff"},{"offset":0.8906,"color":"#000"},{"offset":0.8966,"color":"#fff"},
{"offset":0.9159,"color":"#fff"},{"offset":0.9219,"color":"#000"},{"offset":0.9279,"color":"#fff"},
{"offset":0.9471,"color":"#fff"},{"offset":0.9531,"color":"#000"},{"offset":0.9591,"color":"#fff"},
{"offset":0.9784,"color":"#fff"},{"offset":0.9844,"color":"#000"},{"offset":0.9904,"color":"#fff"}
       ]}},
     "encoding": {"theta": {"field": "t0", "type": "quantitative", "scale": {"domain": [0, 1]}}, "theta2": {"field": "t1"}}},
    {"transform": [{"filter": "datum.name === 'm/z 817'"}],
     "mark": {"type": "arc", "outerRadius": 151, "innerRadius": 0, "padAngle": 0.03,
       "fill": {"gradient": "linear", "x1": 0, "y1": 0, "x2": 0.119, "y2": 1.0957, "stops": [
{"offset":0.0211,"color":"#fff"},{"offset":0.0294,"color":"#000"},{"offset":0.0377,"color":"#fff"},
{"offset":0.0799,"color":"#fff"},{"offset":0.0882,"color":"#000"},{"offset":0.0965,"color":"#fff"},
{"offset":0.1388,"color":"#fff"},{"offset":0.1471,"color":"#000"},{"offset":0.1554,"color":"#fff"},
{"offset":0.1976,"color":"#fff"},{"offset":0.2059,"color":"#000"},{"offset":0.2142,"color":"#fff"},
{"offset":0.2564,"color":"#fff"},{"offset":0.2647,"color":"#000"},{"offset":0.2730,"color":"#fff"},
{"offset":0.3152,"color":"#fff"},{"offset":0.3235,"color":"#000"},{"offset":0.3318,"color":"#fff"},
{"offset":0.3741,"color":"#fff"},{"offset":0.3824,"color":"#000"},{"offset":0.3907,"color":"#fff"},
{"offset":0.4329,"color":"#fff"},{"offset":0.4412,"color":"#000"},{"offset":0.4495,"color":"#fff"},
{"offset":0.4917,"color":"#fff"},{"offset":0.5000,"color":"#000"},{"offset":0.5083,"color":"#fff"},
{"offset":0.5505,"color":"#fff"},{"offset":0.5588,"color":"#000"},{"offset":0.5671,"color":"#fff"},
{"offset":0.6093,"color":"#fff"},{"offset":0.6176,"color":"#000"},{"offset":0.6259,"color":"#fff"},
{"offset":0.6682,"color":"#fff"},{"offset":0.6765,"color":"#000"},{"offset":0.6848,"color":"#fff"},
{"offset":0.7270,"color":"#fff"},{"offset":0.7353,"color":"#000"},{"offset":0.7436,"color":"#fff"},
{"offset":0.7858,"color":"#fff"},{"offset":0.7941,"color":"#000"},{"offset":0.8024,"color":"#fff"},
{"offset":0.8446,"color":"#fff"},{"offset":0.8529,"color":"#000"},{"offset":0.8612,"color":"#fff"},
{"offset":0.9035,"color":"#fff"},{"offset":0.9118,"color":"#000"},{"offset":0.9201,"color":"#fff"},
{"offset":0.9623,"color":"#fff"},{"offset":0.9706,"color":"#000"},{"offset":0.9789,"color":"#fff"}
       ]}},
     "encoding": {"theta": {"field": "t0", "type": "quantitative", "scale": {"domain": [0, 1]}}, "theta2": {"field": "t1"}}},
    {"transform": [{"filter": "datum.name === 'm/z 837'"}],
     "mark": {"type": "arc", "outerRadius": 151, "innerRadius": 0, "padAngle": 0.03,
       "fill": {"gradient": "linear", "x1": 0, "y1": 0, "x2": 0.8362, "y2": 1.122, "stops": [
{"offset":0.0178,"color":"#fff"},{"offset":0.0238,"color":"#000"},{"offset":0.0298,"color":"#fff"},
{"offset":0.0654,"color":"#fff"},{"offset":0.0714,"color":"#000"},{"offset":0.0774,"color":"#fff"},
{"offset":0.1130,"color":"#fff"},{"offset":0.1190,"color":"#000"},{"offset":0.1250,"color":"#fff"},
{"offset":0.1607,"color":"#fff"},{"offset":0.1667,"color":"#000"},{"offset":0.1727,"color":"#fff"},
{"offset":0.2083,"color":"#fff"},{"offset":0.2143,"color":"#000"},{"offset":0.2203,"color":"#fff"},
{"offset":0.2559,"color":"#fff"},{"offset":0.2619,"color":"#000"},{"offset":0.2679,"color":"#fff"},
{"offset":0.3035,"color":"#fff"},{"offset":0.3095,"color":"#000"},{"offset":0.3155,"color":"#fff"},
{"offset":0.3511,"color":"#fff"},{"offset":0.3571,"color":"#000"},{"offset":0.3631,"color":"#fff"},
{"offset":0.3988,"color":"#fff"},{"offset":0.4048,"color":"#000"},{"offset":0.4108,"color":"#fff"},
{"offset":0.4464,"color":"#fff"},{"offset":0.4524,"color":"#000"},{"offset":0.4584,"color":"#fff"},
{"offset":0.4940,"color":"#fff"},{"offset":0.5000,"color":"#000"},{"offset":0.5060,"color":"#fff"},
{"offset":0.5416,"color":"#fff"},{"offset":0.5476,"color":"#000"},{"offset":0.5536,"color":"#fff"},
{"offset":0.5892,"color":"#fff"},{"offset":0.5952,"color":"#000"},{"offset":0.6012,"color":"#fff"},
{"offset":0.6369,"color":"#fff"},{"offset":0.6429,"color":"#000"},{"offset":0.6489,"color":"#fff"},
{"offset":0.6845,"color":"#fff"},{"offset":0.6905,"color":"#000"},{"offset":0.6965,"color":"#fff"},
{"offset":0.7321,"color":"#fff"},{"offset":0.7381,"color":"#000"},{"offset":0.7441,"color":"#fff"},
{"offset":0.7797,"color":"#fff"},{"offset":0.7857,"color":"#000"},{"offset":0.7917,"color":"#fff"},
{"offset":0.8273,"color":"#fff"},{"offset":0.8333,"color":"#000"},{"offset":0.8393,"color":"#fff"},
{"offset":0.8750,"color":"#fff"},{"offset":0.8810,"color":"#000"},{"offset":0.8870,"color":"#fff"},
{"offset":0.9226,"color":"#fff"},{"offset":0.9286,"color":"#000"},{"offset":0.9346,"color":"#fff"},
{"offset":0.9702,"color":"#fff"},{"offset":0.9762,"color":"#000"},{"offset":0.9822,"color":"#fff"}
       ]}},
     "encoding": {"theta": {"field": "t0", "type": "quantitative", "scale": {"domain": [0, 1]}}, "theta2": {"field": "t1"}}},
    {"transform": [{"filter": "datum.name === 'm/z 837'"}],
     "mark": {"type": "arc", "outerRadius": 151, "innerRadius": 0, "padAngle": 0.03,
       "fill": {"gradient": "linear", "x1": 0, "y1": 1, "x2": 0.8362, "y2": -0.122, "stops": [
{"offset":0.0178,"color":"rgba(0,0,0,0)"},{"offset":0.0238,"color":"#000"},{"offset":0.0298,"color":"rgba(0,0,0,0)"},
{"offset":0.0654,"color":"rgba(0,0,0,0)"},{"offset":0.0714,"color":"#000"},{"offset":0.0774,"color":"rgba(0,0,0,0)"},
{"offset":0.1130,"color":"rgba(0,0,0,0)"},{"offset":0.1190,"color":"#000"},{"offset":0.1250,"color":"rgba(0,0,0,0)"},
{"offset":0.1607,"color":"rgba(0,0,0,0)"},{"offset":0.1667,"color":"#000"},{"offset":0.1727,"color":"rgba(0,0,0,0)"},
{"offset":0.2083,"color":"rgba(0,0,0,0)"},{"offset":0.2143,"color":"#000"},{"offset":0.2203,"color":"rgba(0,0,0,0)"},
{"offset":0.2559,"color":"rgba(0,0,0,0)"},{"offset":0.2619,"color":"#000"},{"offset":0.2679,"color":"rgba(0,0,0,0)"},
{"offset":0.3035,"color":"rgba(0,0,0,0)"},{"offset":0.3095,"color":"#000"},{"offset":0.3155,"color":"rgba(0,0,0,0)"},
{"offset":0.3511,"color":"rgba(0,0,0,0)"},{"offset":0.3571,"color":"#000"},{"offset":0.3631,"color":"rgba(0,0,0,0)"},
{"offset":0.3988,"color":"rgba(0,0,0,0)"},{"offset":0.4048,"color":"#000"},{"offset":0.4108,"color":"rgba(0,0,0,0)"},
{"offset":0.4464,"color":"rgba(0,0,0,0)"},{"offset":0.4524,"color":"#000"},{"offset":0.4584,"color":"rgba(0,0,0,0)"},
{"offset":0.4940,"color":"rgba(0,0,0,0)"},{"offset":0.5000,"color":"#000"},{"offset":0.5060,"color":"rgba(0,0,0,0)"},
{"offset":0.5416,"color":"rgba(0,0,0,0)"},{"offset":0.5476,"color":"#000"},{"offset":0.5536,"color":"rgba(0,0,0,0)"},
{"offset":0.5892,"color":"rgba(0,0,0,0)"},{"offset":0.5952,"color":"#000"},{"offset":0.6012,"color":"rgba(0,0,0,0)"},
{"offset":0.6369,"color":"rgba(0,0,0,0)"},{"offset":0.6429,"color":"#000"},{"offset":0.6489,"color":"rgba(0,0,0,0)"},
{"offset":0.6845,"color":"rgba(0,0,0,0)"},{"offset":0.6905,"color":"#000"},{"offset":0.6965,"color":"rgba(0,0,0,0)"},
{"offset":0.7321,"color":"rgba(0,0,0,0)"},{"offset":0.7381,"color":"#000"},{"offset":0.7441,"color":"rgba(0,0,0,0)"},
{"offset":0.7797,"color":"rgba(0,0,0,0)"},{"offset":0.7857,"color":"#000"},{"offset":0.7917,"color":"rgba(0,0,0,0)"},
{"offset":0.8273,"color":"rgba(0,0,0,0)"},{"offset":0.8333,"color":"#000"},{"offset":0.8393,"color":"rgba(0,0,0,0)"},
{"offset":0.8750,"color":"rgba(0,0,0,0)"},{"offset":0.8810,"color":"#000"},{"offset":0.8870,"color":"rgba(0,0,0,0)"},
{"offset":0.9226,"color":"rgba(0,0,0,0)"},{"offset":0.9286,"color":"#000"},{"offset":0.9346,"color":"rgba(0,0,0,0)"},
{"offset":0.9702,"color":"rgba(0,0,0,0)"},{"offset":0.9762,"color":"#000"},{"offset":0.9822,"color":"rgba(0,0,0,0)"}
       ]}},
     "encoding": {"theta": {"field": "t0", "type": "quantitative", "scale": {"domain": [0, 1]}}, "theta2": {"field": "t1"}}},
    {"transform": [{"filter": {"field": "name", "oneOf": ["m/z 839", "m/z 819", "m/z 821"]}}],
     "mark": {"type": "arc", "outerRadius": 151, "innerRadius": 0, "padAngle": 0.03},
     "encoding": {"theta": {"field": "t0", "type": "quantitative", "scale": {"domain": [0, 1]}}, "theta2": {"field": "t1"},
       "fill": {"field": "name", "type": "nominal", "legend": null, "scale": {
         "domain": ["m/z 839", "m/z 819", "m/z 821"],
         "range": ["#999999", "#bababa", "#999999"]}}}},
    {"transform": [{"filter": "datum.name === 'm/z 821'"}],
     "mark": {"type": "arc", "filled": false, "stroke": "black", "strokeWidth": 0.8, "outerRadius": 232, "innerRadius": 154, "padAngle": 3.14},
     "encoding": {"theta": {"field": "t0", "type": "quantitative", "scale": {"domain": [0, 1]}}, "theta2": {"field": "t1"}}},
    {"transform": [{"filter": "datum.name === 'm/z 839'"}],
     "mark": {"type": "arc", "filled": false, "stroke": "black", "strokeWidth": 0.8, "outerRadius": 172, "innerRadius": 154, "padAngle": 3.14},
     "encoding": {"theta": {"field": "t0", "type": "quantitative", "scale": {"domain": [0, 1]}}, "theta2": {"field": "t1"}}},
    {"mark": {"type": "text", "radius": {"expr": "datum.name === 'm/z 821' ? 282 : 0"}, "dx": -1, "dy": -12},
     "encoding": {"theta": {"field": "share", "type": "quantitative", "stack": true, "scale": {"domain": [0, 1]}}, "order": {"field": "order", "type": "quantitative"},
       "text": {"condition": {"test": "datum.name === 'm/z 821'", "value": {"expr": "[datum.name, format(datum.share, '.2~%')]"}}, "value": ""}}},
    {"mark": {"type": "text", "radius": {"expr": "datum.name === 'm/z 837' ? 225 : 0"}, "dx": 18, "dy": -25},
     "encoding": {"theta": {"field": "share", "type": "quantitative", "stack": true, "scale": {"domain": [0, 1]}}, "order": {"field": "order", "type": "quantitative"},
       "text": {"condition": {"test": "datum.name === 'm/z 837'", "value": {"expr": "[datum.name, format(datum.share, '.2~%')]"}}, "value": ""}}},
    {"mark": {"type": "text", "radius": {"expr": "datum.name === 'm/z 843' ? 201 : 0"}, "dx": 14, "dy": -16},
     "encoding": {"theta": {"field": "share", "type": "quantitative", "stack": true, "scale": {"domain": [0, 1]}}, "order": {"field": "order", "type": "quantitative"},
       "text": {"condition": {"test": "datum.name === 'm/z 843'", "value": {"expr": "[datum.name, format(datum.share, '.2~%')]"}}, "value": ""}}},
    {"mark": {"type": "text", "radius": {"expr": "datum.name === 'm/z 817' ? 204 : 0"}, "dx": 56, "dy": -10},
     "encoding": {"theta": {"field": "share", "type": "quantitative", "stack": true, "scale": {"domain": [0, 1]}}, "order": {"field": "order", "type": "quantitative"},
       "text": {"condition": {"test": "datum.name === 'm/z 817'", "value": {"expr": "[datum.name, format(datum.share, '.2~%')]"}}, "value": ""}}},
    {"mark": {"type": "text", "radius": {"expr": "datum.name === 'm/z 819' ? 235 : 0"}, "dx": -17, "dy": 7},
     "encoding": {"theta": {"field": "share", "type": "quantitative", "stack": true, "scale": {"domain": [0, 1]}}, "order": {"field": "order", "type": "quantitative"},
       "text": {"condition": {"test": "datum.name === 'm/z 819'", "value": {"expr": "[datum.name, format(datum.share, '.2~%')]"}}, "value": ""}}},
    {"mark": {"type": "text", "radius": {"expr": "datum.name === 'm/z 793' ? 182 : 0"}, "dx": -29, "dy": -81},
     "encoding": {"theta": {"field": "share", "type": "quantitative", "stack": true, "scale": {"domain": [0, 1]}}, "order": {"field": "order", "type": "quantitative"},
       "text": {"condition": {"test": "datum.name === 'm/z 793'", "value": {"expr": "[datum.name, format(datum.share, '.2~%')]"}}, "value": ""}}},
    {"mark": {"type": "text", "radius": {"expr": "datum.name === 'm/z 815' ? 168.5 : 0"}, "dx": 0, "dy": -8, "align": "left"},
     "encoding": {"theta": {"field": "share", "type": "quantitative", "stack": true, "scale": {"domain": [0, 1]}}, "order": {"field": "order", "type": "quantitative"},
       "text": {"condition": {"test": "datum.name === 'm/z 815'", "value": {"expr": "[datum.name, format(datum.share, '.2~%')]"}}, "value": ""}}},
    {"mark": {"type": "text", "radius": {"expr": "datum.name === 'm/z 555' ? 199 : 0"}, "dx": -28, "dy": -18},
     "encoding": {"theta": {"field": "share", "type": "quantitative", "stack": true, "scale": {"domain": [0, 1]}}, "order": {"field": "order", "type": "quantitative"},
       "text": {"condition": {"test": "datum.name === 'm/z 555'", "value": {"expr": "[datum.name, format(datum.share, '.2~%')]"}}, "value": ""}}},
    {"mark": {"type": "text", "radius": {"expr": "datum.name === 'm/z 839' ? 203 : 0"}, "dx": 26, "dy": -20},
     "encoding": {"theta": {"field": "share", "type": "quantitative", "stack": true, "scale": {"domain": [0, 1]}}, "order": {"field": "order", "type": "quantitative"},
       "text": {"condition": {"test": "datum.name === 'm/z 839'", "value": {"expr": "[datum.name, format(datum.share, '.2~%')]"}}, "value": ""}}}
  ]
}
]
}
